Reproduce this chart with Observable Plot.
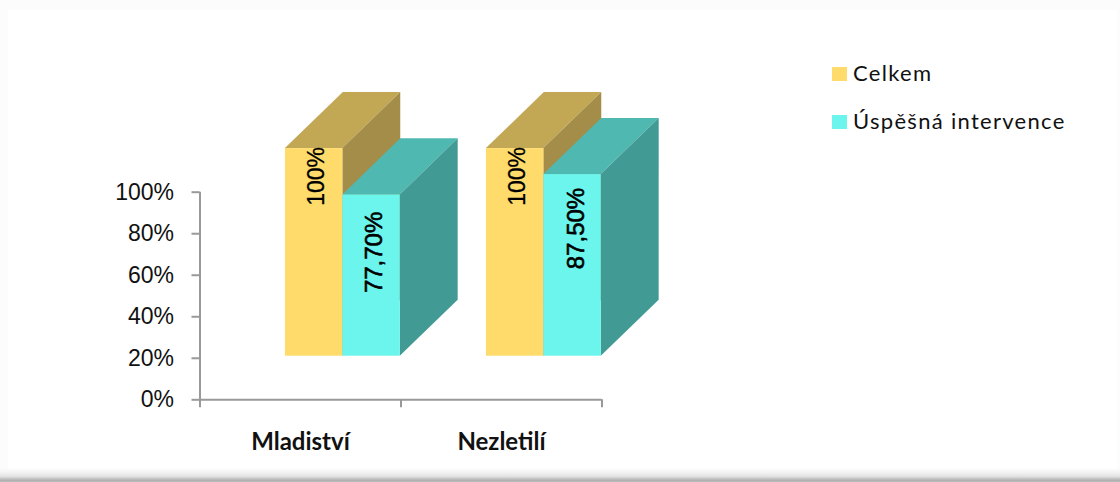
<!DOCTYPE html>
<html lang="cs">
<head>
<meta charset="utf-8">
<script src="https://cdn.jsdelivr.net/npm/d3@7"></script>
<script src="https://cdn.jsdelivr.net/npm/@observablehq/plot@0.6"></script>
<style>
html,body{margin:0;padding:0;background:#fcfcfc;width:1120px;height:482px;overflow:hidden}
#card{position:absolute;left:8px;top:10px;width:1109px;height:460px;background:#fff}
#shadow{position:absolute;left:0;top:468px;width:1120px;height:14px;
 background:linear-gradient(#fff0 0%,#f4f4f4 30%,#e2e2e2 60%,#b0b0b0 88%,#bdbdbd 100%)}
#chart{position:absolute;left:0;top:0}
#legend{position:absolute;left:832px;top:57px;font:22px Lato,sans-serif;color:#111;letter-spacing:1.3px}
#legend div{position:relative;height:47.5px;line-height:32px;padding-left:21px;white-space:nowrap}
#legend i{position:absolute;left:0;top:10px;width:15px;height:14px}
</style>
</head>
<body>
<div id="card"></div>
<div id="chart"></div>
<div id="shadow"></div>
<div id="legend"></div>
<script>
const categories = ["Mladiství", "Nezletilí"];
const seriesNames = ["Celkem", "Úspěšná intervence"];
const celkem = [100, 100];
const uspesna = [77.7, 87.5];
const valueLabels = [["100%", "77,70%"], ["100%", "87,50%"]];
const yTicks = [0, 20, 40, 60, 80, 100];

const frontColors = ["#ffdb6b", "#6bf5ec"];
const topColors = ["#c2a855", "#4fb8b1"];
const sideColors = ["#a38d48", "#429a95"];

// Oblique projection of the old 3-D chart, in scale units
const lift = 21, depthX = 0.288, depthY = 27;
const barStart = 0.425, barW = 0.2857;
const labelDrop = [[13.4, 27.7], [13.4, 26]];
const labelDx = [[2, 3], [2, 4]];

const bars = [];
categories.forEach((c, i) => {
  [celkem[i], uspesna[i]].forEach((v, s) => {
    const x1 = i + barStart + s * barW, x2 = x1 + barW;
    bars.push({id: `${i}-${s}`, cat: c, s, x1, x2, y1: lift, y2: lift + v,
      label: valueLabels[i][s], ly: lift + v - labelDrop[i][s], lx: (x1 + x2) / 2, ldx: labelDx[i][s]});
  });
});

const marks = [];
for (const b of bars) {
  marks.push(
    Plot.areaX([
      {y: b.y2, a: b.x1, c: b.x2},
      {y: b.y2 + depthY, a: b.x1 + depthX, c: b.x2 + depthX}
    ], {y: "y", x1: "a", x2: "c", fill: topColors[b.s], curve: "linear"}),
    Plot.areaY([
      {x: b.x2, a: b.y1, c: b.y2},
      {x: b.x2 + depthX, a: b.y1 + depthY, c: b.y2 + depthY}
    ], {x: "x", y1: "a", y2: "c", fill: sideColors[b.s], curve: "linear"}),
    Plot.rect([b], {x1: "x1", x2: "x2", y1: "y1", y2: "y2", fill: frontColors[b.s]})
  );
}
for (const b of bars) {
  marks.push(Plot.text([b], {x: "lx", y: "ly", text: "label", rotate: -90, dx: b.ldx,
    fontSize: b.s ? 24 : 23, fontFamily: "Liberation Sans", fill: "#000", stroke: "#000", strokeWidth: b.s ? 0.6 : 0.3}));
}

const axisColor = "#999";
marks.push(
  Plot.axisY(yTicks, {anchor: "left", tickSize: 8, tickPadding: 18, stroke: axisColor, strokeWidth: 2,
    fill: "#111", fontSize: 23, fontFamily: "Liberation Sans", tickFormat: d => d + "%", label: null}),
  Plot.ruleX([0], {y1: 0, y2: 100, stroke: axisColor, strokeWidth: 2}),
  Plot.ruleY([0], {x1: 0, x2: categories.length, stroke: axisColor, strokeWidth: 2}),
  Plot.axisX(d3.range(categories.length + 1), {anchor: "bottom", tickSize: 8, stroke: axisColor, strokeWidth: 2,
    tickFormat: () => "", label: null}),
  Plot.text(categories, {x: (d, i) => i + 0.5, y: [0, 0], text: d => d, dy: 43,
    fontSize: 24, fontWeight: 700, fontFamily: "Lato", fill: "#111"})
);

const plot = Plot.plot({
  width: 1120, height: 482,
  marginLeft: 199.5, marginRight: 518.5, marginTop: 191.7, marginBottom: 82.7,
  x: {domain: [0, 2], axis: null},
  y: {domain: [0, 100], axis: null},
  style: {background: "transparent", overflow: "visible"},
  marks
});
document.getElementById("chart").append(plot);

const legend = document.getElementById("legend");
seriesNames.forEach((n, i) => {
  const row = document.createElement("div");
  const sw = document.createElement("i");
  sw.style.background = frontColors[i];
  row.append(sw, n);
  legend.append(row);
});
</script>
</body>
</html>
